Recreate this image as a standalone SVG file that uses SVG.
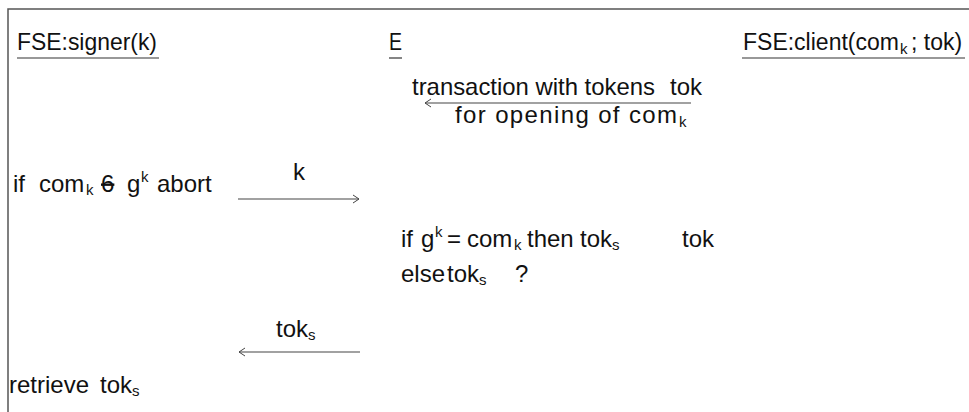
<svg xmlns="http://www.w3.org/2000/svg" width="969" height="412" viewBox="0 0 969 412">
<style>
text{font-family:"Liberation Sans",Arial,sans-serif;font-size:24px;fill:#111}
.sub{font-size:15px}
.ul{stroke:#333;stroke-width:1.2}
.frame{stroke:#555;stroke-width:1.5;fill:none}
.msg{stroke:#444;stroke-width:1.2;fill:none}
</style>
<defs>
<marker id="ah" viewBox="0 0 8 10" refX="7" refY="5" markerWidth="8" markerHeight="10" markerUnits="userSpaceOnUse" orient="auto-start-reverse">
<path d="M1,1 L7,5 L1,9" fill="none" stroke="#444" stroke-width="1"/>
</marker>
</defs>
<path class="frame" d="M8,412 V9 H969"/>
<g id="signer">
<text x="17" y="50" textLength="140" lengthAdjust="spacingAndGlyphs">FSE:signer(k)</text>
<line class="ul" x1="17" y1="58" x2="159" y2="58"/>
</g>
<g id="env">
<text x="389" y="50" textLength="13" lengthAdjust="spacingAndGlyphs">E</text>
<line class="ul" x1="389" y1="58" x2="402" y2="58"/>
</g>
<g id="client">
<text x="743" y="50" style="font-size:23px">FSE:client(com<tspan class="sub" x="900" dy="4">k</tspan><tspan x="911" dy="-4">; tok)</tspan></text>
<line class="ul" x1="742" y1="58" x2="965" y2="58"/>
</g>
<g id="connectors">
<line class="msg" x1="691" y1="103" x2="425" y2="103" marker-end="url(#ah)"/>
<line class="msg" x1="238" y1="199" x2="359" y2="199" marker-end="url(#ah)"/>
<line class="msg" x1="360" y1="352" x2="239" y2="352" marker-end="url(#ah)"/>
</g>
<g id="labels">
<text x="412" y="95"><tspan textLength="243" lengthAdjust="spacingAndGlyphs">transaction with tokens</tspan><tspan x="670">tok</tspan></text>
<text x="455" y="123"><tspan textLength="222" lengthAdjust="spacing">for opening of com</tspan><tspan class="sub" x="679" dy="4">k</tspan></text>
<text x="293" y="180">k</text>
<text x="276" y="337">tok<tspan class="sub" dy="3">s</tspan></text>
</g>
<g id="signer-steps">
<text x="13" y="192">if<tspan x="39">com</tspan><tspan class="sub" x="86" dy="3">k</tspan><tspan x="101" dy="-3" text-decoration="line-through">6</tspan><tspan x="127">g</tspan><tspan class="sub" x="141" dy="-10">k</tspan><tspan x="157" dy="10">abort</tspan></text>
<text x="9" y="393">retrieve<tspan x="100">tok</tspan><tspan class="sub" dy="3">s</tspan></text>
</g>
<g id="env-steps">
<text x="401" y="247">if<tspan x="421">g</tspan><tspan class="sub" x="435" dy="-10">k</tspan><tspan x="447" dy="10">=</tspan><tspan x="467">com</tspan><tspan class="sub" x="514" dy="3">k</tspan><tspan x="527" dy="-3">then</tspan><tspan x="580">tok</tspan><tspan class="sub" dy="3">s</tspan><tspan x="682" dy="-3">tok</tspan></text>
<text x="401" y="282">else<tspan x="447">tok</tspan><tspan class="sub" dy="3">s</tspan><tspan x="515" dy="-3">?</tspan></text>
</g>
</svg>
